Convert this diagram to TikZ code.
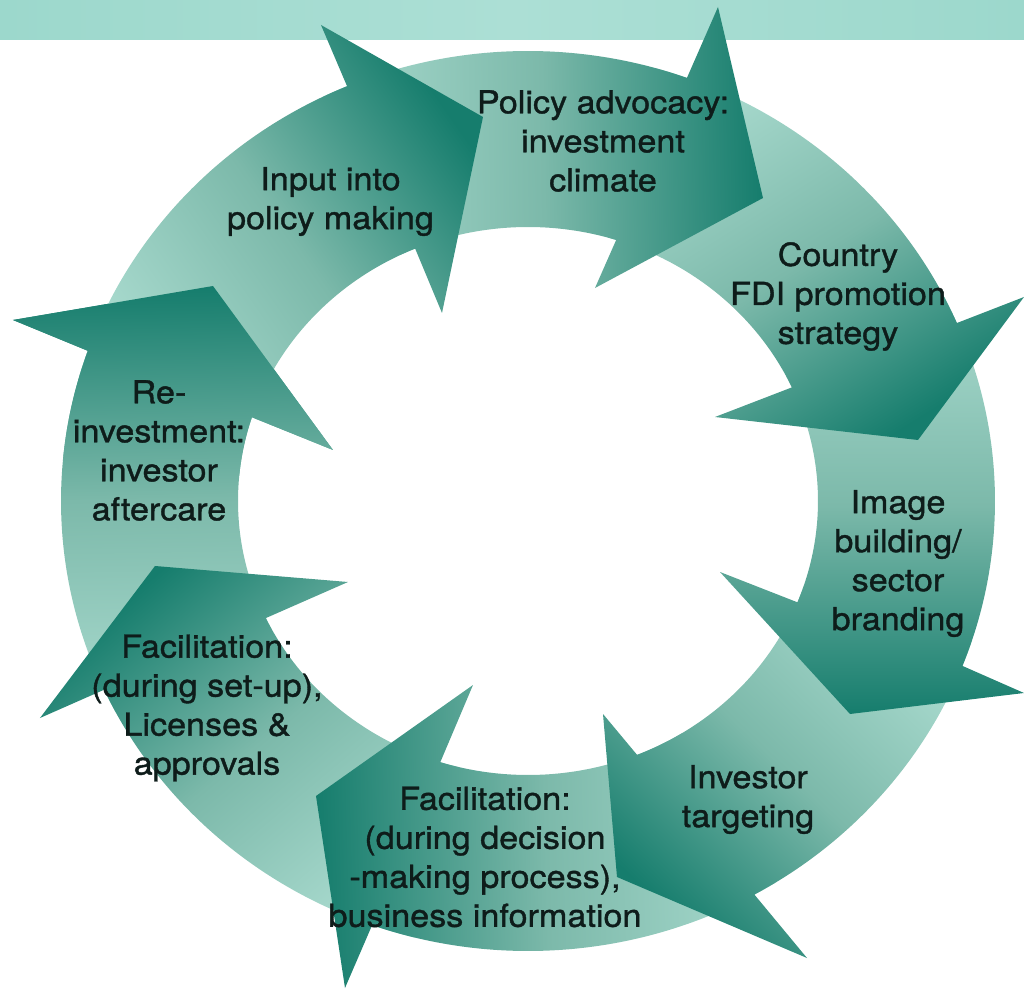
\documentclass[tikz,border=0pt]{standalone}
\usepackage{fontspec}
\usepackage{tikz}
\newfontfamily\cyclefont{TeX Gyre Heros}[FakeStretch=1.08, FakeBold=1.2]
\definecolor{teallight}{RGB}{170,219,207}
\definecolor{tealmid}{RGB}{124,185,170}
\definecolor{tealdark}{RGB}{22,125,109}
\definecolor{bandside}{RGB}{156,216,204}
\definecolor{bandmid}{RGB}{172,223,213}
\definecolor{labelink}{RGB}{14,28,26}
\tikzset{
  cyclearrow/.style={top color=tealdark, bottom color=teallight, middle color=tealmid},
  cyclelabel/.style={
    font=\cyclefont\fontsize{18}{22.2}\selectfont, text=labelink,
    align=center, inner sep=0pt
  }
}
% one curved arrow of the ring:
% #1 shading angle, #2 tail angle, #3 outer end, #4 outer barb, #5 tip,
% #6 inner barb, #7 inner end
\newcommand{\ringarrow}[7]{%
  \shade[cyclearrow, shading angle=#1]
    (#2:467 and 450) arc[start angle=#2, end angle=#3, x radius=467, y radius=450]
    -- #4 -- #5 -- #6
    -- (#7:290 and 274) arc[start angle=#7, end angle=#2, x radius=290, y radius=274]
    -- cycle;}

\begin{document}
\begin{tikzpicture}[x=0.02cm, y=0.02cm]
    \useasboundingbox (-528,-489) rectangle (496,501);

    % Band along the top edge.
    \shade[left color=bandside, right color=bandside, middle color=bandmid]
      (-528,461) rectangle (496,502);

    % The eight arrows, drawn so each head sits on the next tail.
    \ringarrow{1}{208}{160.5}{(-515,181)}{(-315,215)}{(-195,51)}{162.2}
    \ringarrow{40}{-104}{-155.2}{(-488,-217)}{(-373,-65)}{(-180,-81)}{-154.7}
    \ringarrow{91.5}{-58}{-109.5}{(-183,-487)}{(-212,-295)}{(-55,-184)}{-107.6}
    \ringarrow{136}{-18}{-61}{(279,-457)}{(89,-376)}{(75,-213)}{-67.9}
    \ringarrow{180}{27}{-21.5}{(496,-192)}{(322,-213)}{(192,-71)}{-21.7}
    \ringarrow{212}{74}{23.3}{(496,204)}{(390,61)}{(187,84)}{24.5}
    \ringarrow{271}{116}{70.1}{(190,494)}{(235,303)}{(67,213)}{72.3}
    \ringarrow{305}{164}{112.8}{(-207,476)}{(-45,384)}{(-86,188)}{112.9}

    % Close the loop: aftercare head over the first tail.
    \begin{scope}
      \clip (0,0) -- (175:800) -- (100:800) -- cycle;
      \ringarrow{1}{208}{160.5}{(-515,181)}{(-315,215)}{(-195,51)}{162.2}
    \end{scope}

    % Stage labels, clockwise from the top left.
    \node[cyclelabel] (input) at (-197.5,299.5) {Input into\\policy making};
    \node[cyclelabel] (advocacy) at (75,360) {Policy advocacy:\\investment\\climate};
    \node[cyclelabel] (strategy) at (310,204.5) {Country\\FDI promotion\\strategy};
    \node[cyclelabel] (branding) at (370,-62.5) {Image\\building/\\sector\\branding};
    \node[cyclelabel] (targeting) at (220,-298.5) {Investor\\targeting};
    \node[cyclelabel] (decision) at (-43,-356)
      {Facilitation:\\(during decision\\-making process),\\business information};
    \node[cyclelabel] (setup) at (-321,-207)
      {Facilitation:\\(during set-up),\\Licenses \&\\approvals};
    \node[cyclelabel] (aftercare) at (-369,50.5) {Re-\\investment:\\investor\\aftercare};
\end{tikzpicture}
\end{document}
